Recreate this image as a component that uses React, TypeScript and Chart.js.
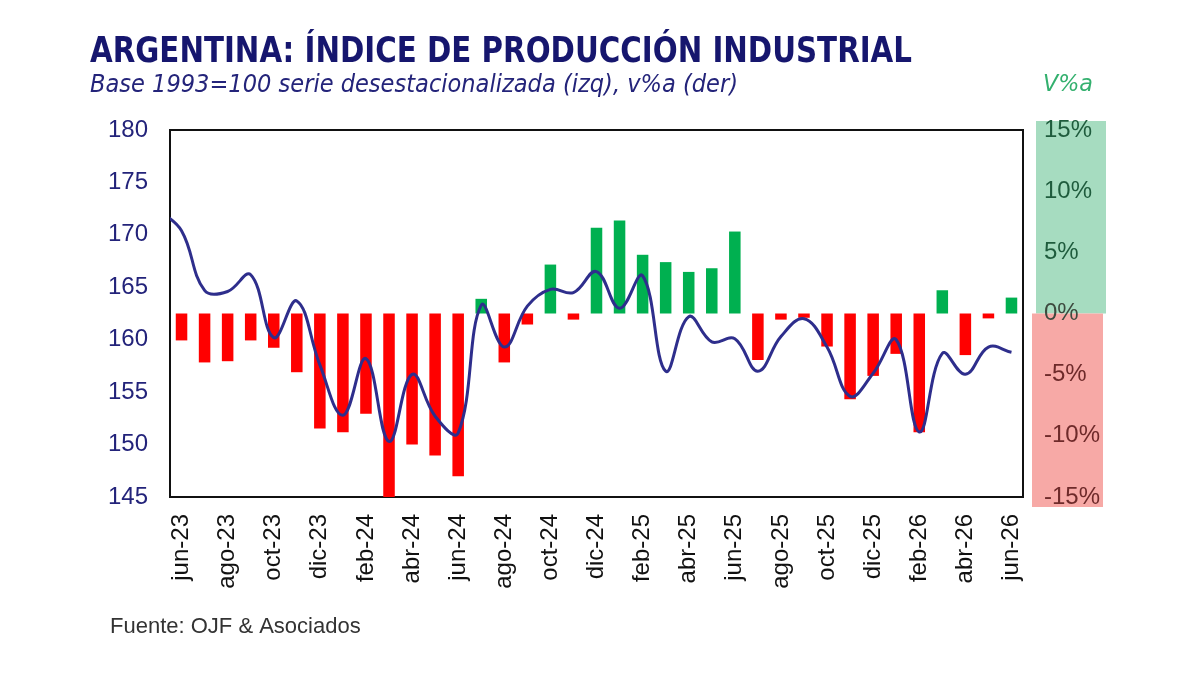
import React, { useEffect, useRef } from "react";
import { Chart, registerables } from "chart.js";

Chart.register(...registerables);

// Monthly categories (x axis)
const months = [
  "jun-23", "jul-23", "ago-23", "sep-23", "oct-23", "nov-23", "dic-23",
  "ene-24", "feb-24", "mar-24", "abr-24", "may-24", "jun-24", "jul-24",
  "ago-24", "sep-24", "oct-24", "nov-24", "dic-24", "ene-25", "feb-25",
  "mar-25", "abr-25", "may-25", "jun-25", "jul-25", "ago-25", "sep-25",
  "oct-25", "nov-25", "dic-25", "ene-26", "feb-26", "mar-26", "abr-26",
  "may-26", "jun-26",
];

// Year-on-year variation, % (right axis, bars)
const yoyVar = [
  -2.2, -4.0, -3.9, -2.2, -2.8, -4.8, -9.4, -9.7, -8.2, -15.0, -10.7, -11.6,
  -13.3, 1.2, -4.0, -0.9, 4.0, -0.5, 7.0, 7.6, 4.8, 4.2, 3.4, 3.7, 6.7, -3.8,
  -0.5, -0.35, -2.7, -7.0, -5.1, -3.3, -9.7, 1.9, -3.4, -0.4, 1.3,
];

// Seasonally adjusted index, base 1993=100 (left axis, line); series starts may-23
const ipiStartIndex = -1;
const ipiIndex = [
  172.4, 170.4, 164.7, 164.6, 166.2, 160.2, 163.7, 157.6, 152.8, 158.2, 150.3,
  156.7, 152.7, 151.1, 163.3, 159.3, 163.2, 164.8, 164.5, 166.5, 163.0, 166.1,
  157.0, 162.2, 159.8, 160.1, 157.0, 160.3, 162.0, 159.3, 154.6, 156.8, 160.0,
  151.2, 158.7, 156.7, 159.3, 158.8,
];

// Axis ranges / ticks
const leftMin = 145;
const leftMax = 180;
const leftStep = 5;
const rightMin = -15;
const rightMax = 15;
const rightStep = 5;

const TITLE = "ARGENTINA: ÍNDICE DE PRODUCCIÓN INDUSTRIAL";
const SUBTITLE = "Base 1993=100 serie desestacionalizada (izq), v%a (der)";
const RIGHT_LABEL = "V%a";
const SOURCE = "Fuente: OJF & Asociados";

const NAVY = "#16166e";
const LINE_NAVY = "#2e2e8c";
const BAR_RED = "#ff0000";
const BAR_GREEN = "#00b050";

const decorPlugin = {
  id: "decor",
  beforeDraw(chart: any) {
    const { ctx, chartArea } = chart;
    const y2 = chart.scales.y2;
    const zero = y2.getPixelForValue(0);
    const top = y2.getPixelForValue(rightMax) - 9;
    const bottom = y2.getPixelForValue(rightMin) + 10;
    ctx.save();
    ctx.fillStyle = "#a6dcc0";
    ctx.fillRect(chartArea.right + 13, top, 70, zero - top);
    ctx.fillStyle = "#f7a9a6";
    ctx.fillRect(chartArea.right + 9, zero, 71, bottom - zero);
    ctx.restore();
  },
  beforeDatasetsDraw(chart: any) {
    const { ctx, chartArea } = chart;
    ctx.save();
    ctx.strokeStyle = "#111111";
    ctx.lineWidth = 2;
    ctx.strokeRect(
      chartArea.left,
      chartArea.top,
      chartArea.right - chartArea.left,
      chartArea.bottom - chartArea.top
    );
    ctx.restore();
  },
  afterDraw(chart: any) {
    const { ctx } = chart;
    ctx.save();
    ctx.textBaseline = "alphabetic";
    ctx.textAlign = "left";
    ctx.fillStyle = NAVY;
    ctx.font = 'bold 36px "DejaVu Sans", "Liberation Sans", sans-serif';
    ctx.fillText(TITLE, 90, 62, 822);
    ctx.fillStyle = "#24247a";
    ctx.font = 'italic 25px "DejaVu Sans", "Liberation Sans", sans-serif';
    ctx.fillText(SUBTITLE, 90, 92, 648);
    ctx.fillStyle = "#33b06e";
    ctx.font = 'italic 23px "DejaVu Sans", "Liberation Sans", sans-serif';
    ctx.fillText(RIGHT_LABEL, 1043, 91, 50);
    ctx.fillStyle = "#333333";
    ctx.font = '22px "Liberation Sans", Arial, sans-serif';
    ctx.fillText(SOURCE, 110, 633);
    ctx.restore();
  },
};

export default function App() {
  const canvasRef = useRef<HTMLCanvasElement | null>(null);

  useEffect(() => {
    const canvas = canvasRef.current;
    if (!canvas) return;
    const lineData = ipiIndex.map((v, i) => ({ x: i + ipiStartIndex, y: v }));
    const chart = new Chart(canvas, {
      type: "bar",
      data: {
        labels: months,
        datasets: [
          {
            type: "line",
            label: "IPI desestacionalizado",
            data: lineData as any,
            xAxisID: "xl",
            yAxisID: "y",
            borderColor: LINE_NAVY,
            borderWidth: 3,
            pointRadius: 0,
            tension: 0.4,
            fill: false,
            order: 0,
          } as any,
          {
            type: "bar",
            label: "v%a",
            data: yoyVar,
            xAxisID: "x",
            yAxisID: "y2",
            backgroundColor: yoyVar.map((v) => (v >= 0 ? BAR_GREEN : BAR_RED)),
            borderWidth: 0,
            grouped: false,
            barPercentage: 0.5,
            categoryPercentage: 1.0,
            order: 1,
          } as any,
        ],
      },
      options: {
        responsive: false,
        animation: false,
        layout: { padding: { top: 130, left: 0, right: 0, bottom: 0 } },
        plugins: {
          legend: { display: false },
          title: { display: false },
          tooltip: { enabled: false },
        },
        scales: {
          x: {
            type: "category",
            position: "bottom",
            offset: true,
            grid: { display: false, drawTicks: false },
            border: { display: false },
            ticks: {
              autoSkip: false,
              maxRotation: 90,
              minRotation: 90,
              padding: 17,
              color: "#111111",
              font: { family: '"Liberation Sans", Arial, sans-serif', size: 24 },
              callback: (_v: any, i: number) => (i % 2 === 0 ? months[i] : ""),
            },
            afterFit: (s: any) => {
              s.height = 182;
            },
          },
          xl: {
            type: "linear",
            display: false,
            min: -0.5,
            max: months.length - 0.5,
            offset: false,
          },
          y: {
            type: "linear",
            position: "left",
            min: leftMin,
            max: leftMax,
            grid: { display: false, drawTicks: false },
            border: { display: false },
            ticks: {
              stepSize: leftStep,
              padding: 22,
              color: "#23237a",
              font: { family: '"Liberation Sans", Arial, sans-serif', size: 24 },
            },
            afterFit: (s: any) => {
              s.width = 170;
            },
          },
          y2: {
            type: "linear",
            position: "right",
            min: rightMin,
            max: rightMax,
            grid: { display: false, drawTicks: false },
            border: { display: false },
            ticks: {
              stepSize: rightStep,
              padding: 21,
              font: { family: '"Liberation Sans", Arial, sans-serif', size: 24 },
              color: (c: any) =>
                c.tick && c.tick.value > 0
                  ? "#1f5c3d"
                  : c.tick && c.tick.value < 0
                  ? "#6e2a2a"
                  : "#3d4a3f",
              callback: (v: any) => `${v}%`,
            },
            afterFit: (s: any) => {
              s.width = 177;
            },
          },
        },
      },
      plugins: [decorPlugin],
    });
    return () => {
      chart.destroy();
    };
  }, []);

  return (
    <div
      style={{
        position: "absolute",
        left: 0,
        top: 0,
        width: 1200,
        height: 679,
        background: "#ffffff",
      }}
    >
      <canvas ref={canvasRef} width={1200} height={679} style={{ display: "block" }} />
    </div>
  );
}
